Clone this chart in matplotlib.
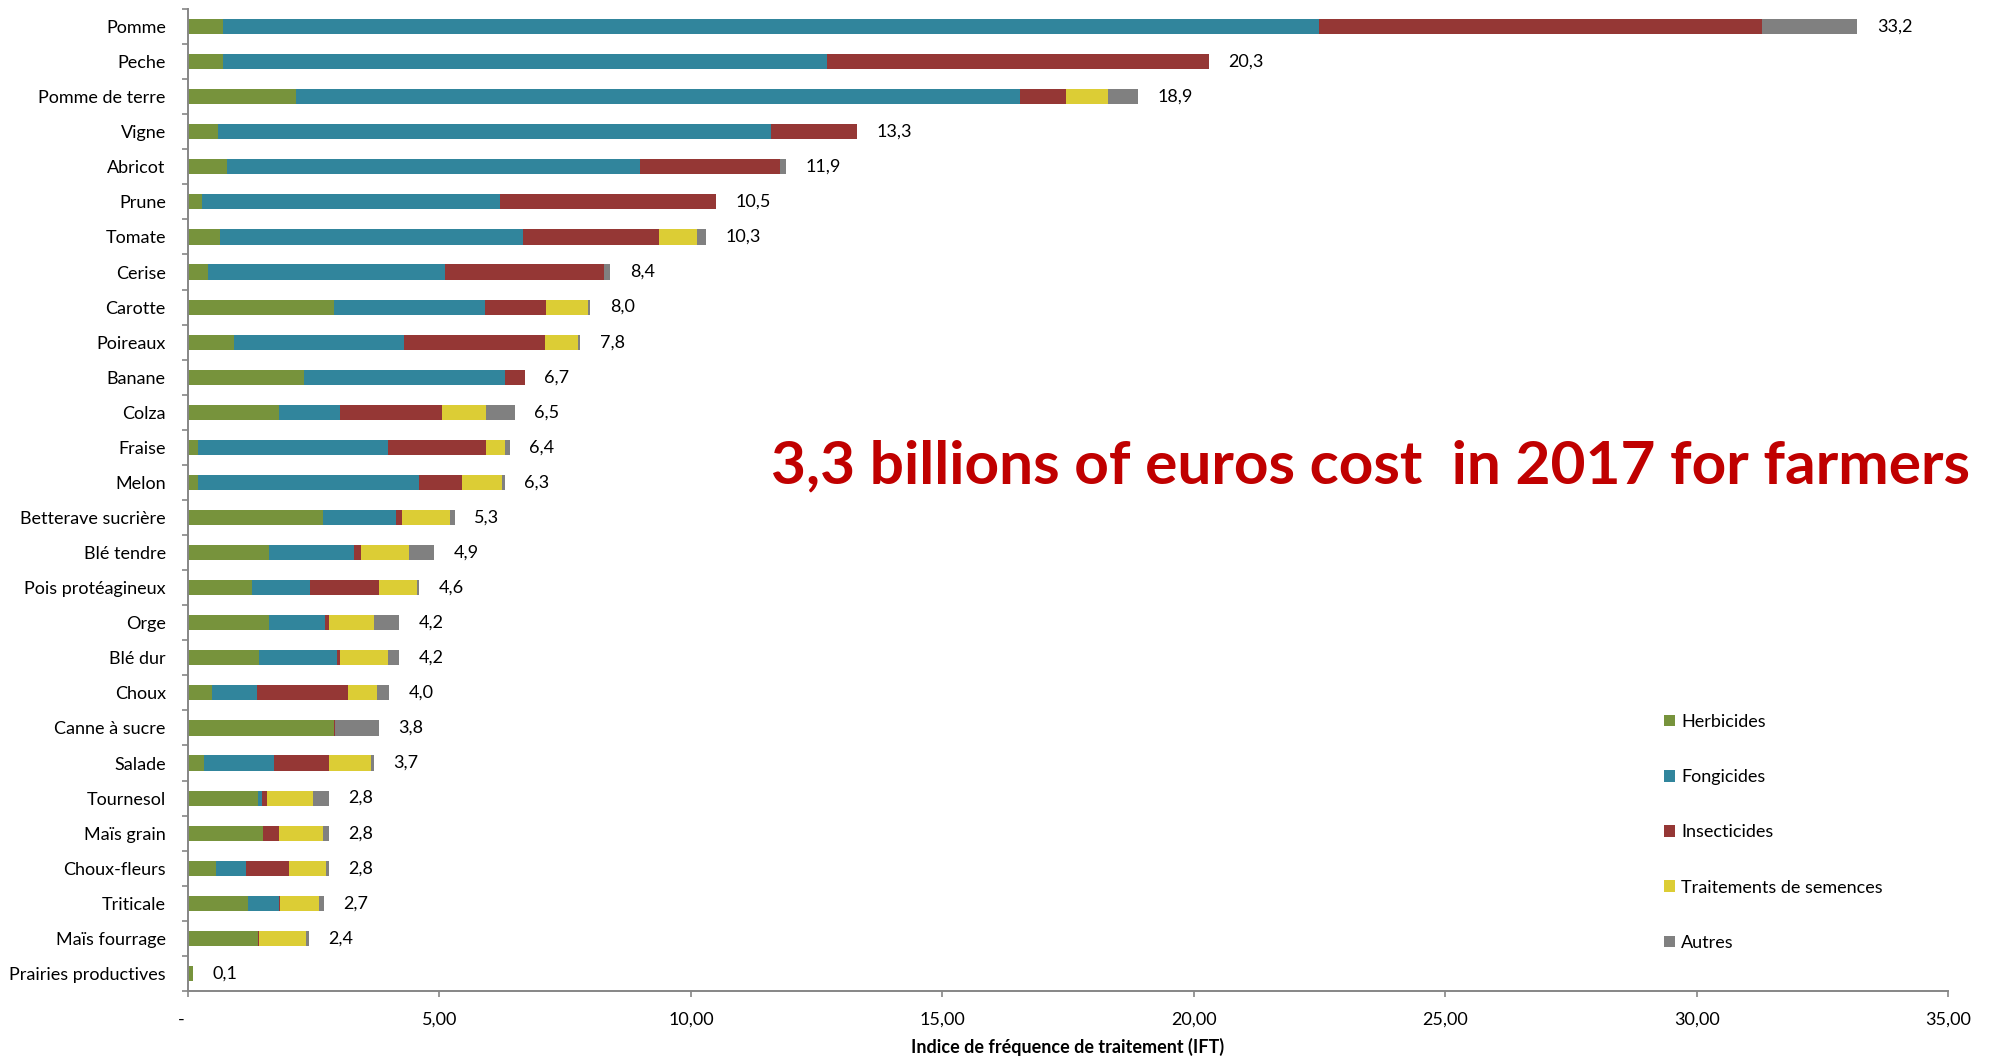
import matplotlib
matplotlib.use("Agg")
import matplotlib.pyplot as plt
from matplotlib.patches import Patch
from matplotlib.ticker import FixedLocator, FixedFormatter
import numpy as np

# Crops, top to bottom
crops = ["Pomme", "Peche", "Pomme de terre", "Vigne", "Abricot", "Prune", "Tomate",
         "Cerise", "Carotte", "Poireaux", "Banane", "Colza", "Fraise", "Melon",
         "Betterave sucrière", "Blé tendre", "Pois protéagineux", "Orge", "Blé dur",
         "Choux", "Canne à sucre", "Salade", "Tournesol", "Maïs grain", "Choux-fleurs",
         "Triticale", "Maïs fourrage", "Prairies productives"]

# Treatment frequency index (IFT) by product family
herbicides = [0.70, 0.70, 2.15, 0.60, 0.78, 0.28, 0.64, 0.40, 2.91, 0.92, 2.31, 1.80, 0.20, 0.20,
              2.68, 1.62, 1.27, 1.62, 1.42, 0.47, 2.91, 0.32, 1.39, 1.50, 0.55, 1.20, 1.39, 0.10]
fongicides = [21.80, 12.00, 14.40, 11.00, 8.20, 5.92, 6.02, 4.71, 3.00, 3.38, 4.00, 1.23, 3.78, 4.40,
              1.45, 1.68, 1.15, 1.11, 1.54, 0.91, 0.00, 1.40, 0.08, 0.00, 0.60, 0.60, 0.00, 0.00]
insecticides = [8.80, 7.60, 0.92, 1.70, 2.80, 4.30, 2.71, 3.16, 1.20, 2.80, 0.39, 2.02, 1.95, 0.84,
                0.12, 0.15, 1.37, 0.07, 0.07, 1.80, 0.02, 1.08, 0.11, 0.30, 0.85, 0.02, 0.03, 0.00]
semences = [0.00, 0.00, 0.82, 0.00, 0.00, 0.00, 0.76, 0.00, 0.84, 0.65, 0.00, 0.88, 0.37, 0.80,
            0.97, 0.95, 0.76, 0.90, 0.95, 0.57, 0.00, 0.84, 0.90, 0.88, 0.74, 0.78, 0.92, 0.00]
autres = [1.90, 0.00, 0.61, 0.00, 0.12, 0.00, 0.17, 0.13, 0.05, 0.05, 0.00, 0.57, 0.10, 0.06,
          0.08, 0.50, 0.05, 0.50, 0.22, 0.25, 0.87, 0.06, 0.32, 0.12, 0.06, 0.10, 0.06, 0.00]

series_names = ["Herbicides", "Fongicides", "Insecticides", "Traitements de semences", "Autres"]
series_colors = ["#77933C", "#31859C", "#953735", "#DCCD35", "#808080"]

x_ticks = [0, 5, 10, 15, 20, 25, 30, 35]
x_tick_labels = ["-   ", "5,00", "10,00", "15,00", "20,00", "25,00", "30,00", "35,00"]
x_label = "Indice de fréquence de traitement (IFT)"
headline = "3,3 billions of euros cost  in 2017 for farmers"

plt.rcParams['font.family'] = ['Lato', 'DejaVu Sans']
axis_grey = "#868686"
W, H = 1993, 1058

fig = plt.figure(figsize=(W / 100, H / 100), dpi=100)
ax = fig.add_axes([188 / W, 1 - 991 / H, (1948 - 188) / W, (991 - 9) / H])

y = np.arange(len(crops))
left = np.zeros(len(crops))
for vals, name, col in zip([herbicides, fongicides, insecticides, semences, autres],
                           series_names, series_colors):
    vals = np.array(vals)
    ax.barh(y, vals, left=left, height=0.43, color=col, edgecolor="none", label=name)
    left = left + vals

for i, total in enumerate(left):
    ax.annotate(f"{total:.1f}".replace(".", ","), (total, i), xytext=(14, 0),
                textcoords="offset points", va="center", ha="left", fontsize=13, color="#000000")

ax.set_xlim(0, 35)
ax.set_ylim(len(crops) - 0.5, -0.5)

ax.xaxis.set_major_locator(FixedLocator(x_ticks))
ax.xaxis.set_major_formatter(FixedFormatter(x_tick_labels))
ax.tick_params(axis="x", direction="out", length=4, width=1.2, color=axis_grey,
               pad=11, labelsize=13)
ax.set_xlabel(x_label, fontsize=13, fontweight="bold", labelpad=7)

ax.set_yticks(y)
ax.set_yticklabels(crops)
ax.yaxis.set_minor_locator(FixedLocator(np.arange(-0.5, len(crops), 1.0)))
ax.tick_params(axis="y", which="major", length=0, pad=16, labelsize=13)
ax.tick_params(axis="y", which="minor", direction="out", length=4, width=1.2, color=axis_grey)

for side in ("top", "right"):
    ax.spines[side].set_visible(False)
for side in ("left", "bottom"):
    ax.spines[side].set_color(axis_grey)
    ax.spines[side].set_linewidth(1.4)

handles = [Patch(facecolor=c, edgecolor="none") for c in series_colors]
fig.legend(handles, series_names, loc="upper left",
           bbox_to_anchor=(1664 / W, 1 - 714 / H), frameon=False, fontsize=13,
           handlelength=0.6, handleheight=0.6, handletextpad=0.35, labelspacing=2.17,
           borderaxespad=0, borderpad=0)

title = fig.text(771 / W, 1 - 483 / H, headline, color="#C00000", fontweight="bold",
                 fontsize=48, ha="left", va="baseline")
fig.canvas.draw()
bb = title.get_window_extent()
title.set_fontsize(48 * 1202 / bb.width)

fig.savefig("out.png", dpi=100)
